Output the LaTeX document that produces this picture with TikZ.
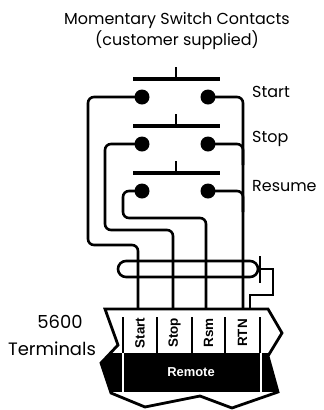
\documentclass[tikz,border=0pt]{standalone}
\usepackage{fontspec}
\setsansfont{Poppins}
\newfontfamily\labelfont{Liberation Sans}
\usepackage{tikz}
\usetikzlibrary{positioning}

\tikzset{
	wire/.style={line width=2.6bp, rounded corners=6bp},
	bar/.style={line width=3.8bp},
	contact/.style={circle, fill, inner sep=0pt, minimum size=15bp},
	thin/.style={font=\sffamily\fontsize{16}{22}\selectfont, inner sep=0pt},
	big/.style={font=\sffamily\fontsize{18}{22}\selectfont, inner sep=0pt},
	term/.style={font=\labelfont\bfseries\fontsize{13.5}{15}\selectfont, rotate=90, inner sep=0pt},
	sep/.style={line width=1.6bp},
}

\begin{document}
\begin{tikzpicture}[x=1bp, y=-1bp]
	\useasboundingbox (0,0) rectangle (324,410);
	\node[thin, align=center] (title) at (177,31) {Momentary Switch Contacts\\(customer supplied)};
	\foreach \n/\y in {1/97,2/144,3/191}{
		\draw[bar] (133,\y-18) -- (220,\y-18);
		\draw[line width=2.6bp] (176,\y-18) -- (176,\y-30);
		\node[contact] (l\n) at (142,\y) {};
		\node[contact] (r\n) at (208,\y) {};
	}
	\node[thin, anchor=west] (lStart) at (252,92) {Start};
	\node[thin, anchor=west] (lStop) at (252,139) {Stop};
	\node[thin, anchor=west] (lResume) at (252,186) {Resume};
	\coordinate (tStart) at (138,309);
	\coordinate (tStop) at (173,309);
	\coordinate (tRsm) at (206,309);
	\coordinate (tRtn) at (243,309);
	\coordinate (tDrain) at (250,309);
	\draw[wire] (l1.center) -| (88,245) -| (tStart);
	\draw[wire] (l2.center) -| (105,230) -| (tStop);
	\draw[wire] (l3.center) -| (123,218) -| (tRsm);
	\draw[wire] (r1.center) -| (tRtn);
	\draw[wire] (r2.center) -| (243,165);
	\draw[wire] (r3.center) -| (243,212);
	\draw[line width=2.6bp, rounded corners=8bp] (118,261) rectangle (258,277);
	\draw[line width=2.6bp] (260,256) -- (260,283);
	\draw[line width=2.6bp] (260,269) -| (273,295) -| (tDrain);
	\begin{scope}
		\clip (105,309) -- (268,309) -- (282,333) -- (268,356) -- (278,392) -- (232,408) -- (200,396) -- (145,407) -- (111,393) -- (101,363) -- (118,345) -- cycle;
		\fill (90,353) rectangle (290,392);
	\end{scope}
	\draw[line width=2.8bp, line join=miter] (105,309) -- (268,309) -- (282,333) -- (268,356) -- (278,392) -- (232,408) -- (200,396) -- (145,407) -- (111,393) -- (101,363) -- (118,345) -- cycle;
	\foreach \x in {123,157,192,225,260}
		\draw[sep] (\x,317) -- (\x,353);
	\foreach \x in {123,261}
		\draw[sep, white] (\x,353) -- (\x,392);
	\node[term] (nStart) at (140,333) {Start};
	\node[term] (nStop) at (174.5,333) {Stop};
	\node[term] (nRsm) at (208.5,333) {Rsm};
	\node[term] (nRtn) at (242.5,333) {RTN};
	\node[font=\labelfont\bfseries\fontsize{13}{15}\selectfont, white, inner sep=0pt] (remote) at (191,372) {Remote};
	\node[big] (num) at (60,322) {5600};
	\node[big] (block) at (52,349) {Terminals};
\end{tikzpicture}
\end{document}
